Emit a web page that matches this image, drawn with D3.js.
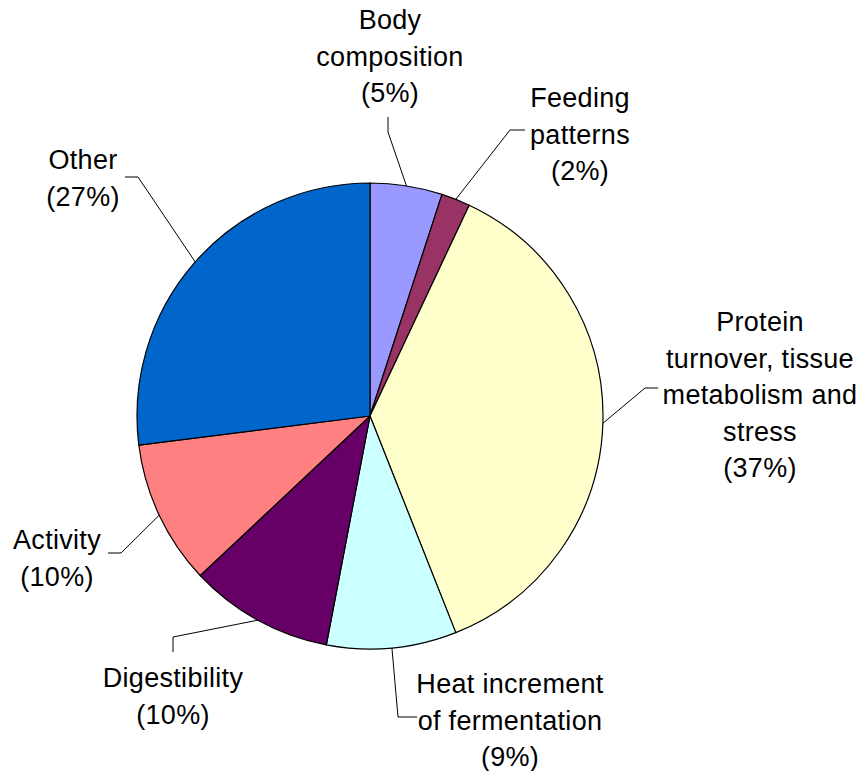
<!DOCTYPE html>
<html><head><meta charset="utf-8">
<script src="https://cdn.jsdelivr.net/npm/d3@7"></script>
<style>html,body{margin:0;padding:0;background:#fff;}svg{display:block;}</style>
</head><body>
<svg id="chart" width="864" height="771"></svg>
<script>
// ---- data ----
const categories = ["Body composition","Feeding patterns","Protein turnover, tissue metabolism and stress","Heat increment of fermentation","Digestibility","Activity","Other"];
const values = [5, 2, 37, 9, 10, 10, 27];
const labelLines = [
  ["Body","composition","(5%)"],
  ["Feeding","patterns","(2%)"],
  ["Protein","turnover, tissue","metabolism and","stress","(37%)"],
  ["Heat increment","of fermentation","(9%)"],
  ["Digestibility","(10%)"],
  ["Activity","(10%)"],
  ["Other","(27%)"]
];
const colors = ["#9999FF","#993366","#FFFFCC","#CCFFFF","#660066","#FF8080","#0066CC"];

// ---- layout (positions only) ----
const cx = 370, cy = 416, R = 233;
const fs = 27, lh = 36.5;
const labelLayout = [
  {x:390, y:20,  elbow:[388,132], end:[388,117]},
  {x:580, y:98,  elbow:[510,130], end:[525,130]},
  {x:760, y:322, elbow:[645,388], end:[658,388]},
  {x:510, y:684, elbow:[398,717], end:[417,717]},
  {x:173, y:678, elbow:[173,637], end:[173,652]},
  {x:57,  y:540, elbow:[121,553], end:[108,553]},
  {x:83,  y:160, elbow:[138,177], end:[125,177]}
];

const svg = d3.select("#chart");
const g = svg.append("g").attr("transform",`translate(${cx},${cy})`);
const pie = d3.pie().sort(null).value(d=>d).startAngle(0).endAngle(2*Math.PI);
const arcs = pie(values);
const arc = d3.arc().innerRadius(0).outerRadius(R);

g.selectAll("path.slice").data(arcs).enter().append("path")
  .attr("class","slice")
  .attr("d",arc)
  .attr("fill",(d,i)=>colors[i])
  .attr("stroke","#000").attr("stroke-width",1.2).attr("stroke-linejoin","round");

arcs.forEach((a,i)=>{
  const m = (a.startAngle+a.endAngle)/2;
  const ax = cx + R*Math.sin(m), ay = cy - R*Math.cos(m);
  const L = labelLayout[i];
  svg.append("polyline")
    .attr("points",[[ax,ay],L.elbow,L.end].map(p=>p.join(",")).join(" "))
    .attr("fill","none").attr("stroke","#000").attr("stroke-width",1);
});

labelLines.forEach((lines,i)=>{
  const L = labelLayout[i];
  const t = svg.append("text")
    .attr("text-anchor","middle")
    .attr("font-family","Liberation Sans, Arial, sans-serif")
    .attr("font-size",fs).attr("letter-spacing",0.3).attr("fill","#000");
  lines.forEach((s,j)=>{
    t.append("tspan").attr("x",L.x).attr("y",L.y + j*lh + fs*0.35).text(s);
  });
});
</script>
</body></html>
